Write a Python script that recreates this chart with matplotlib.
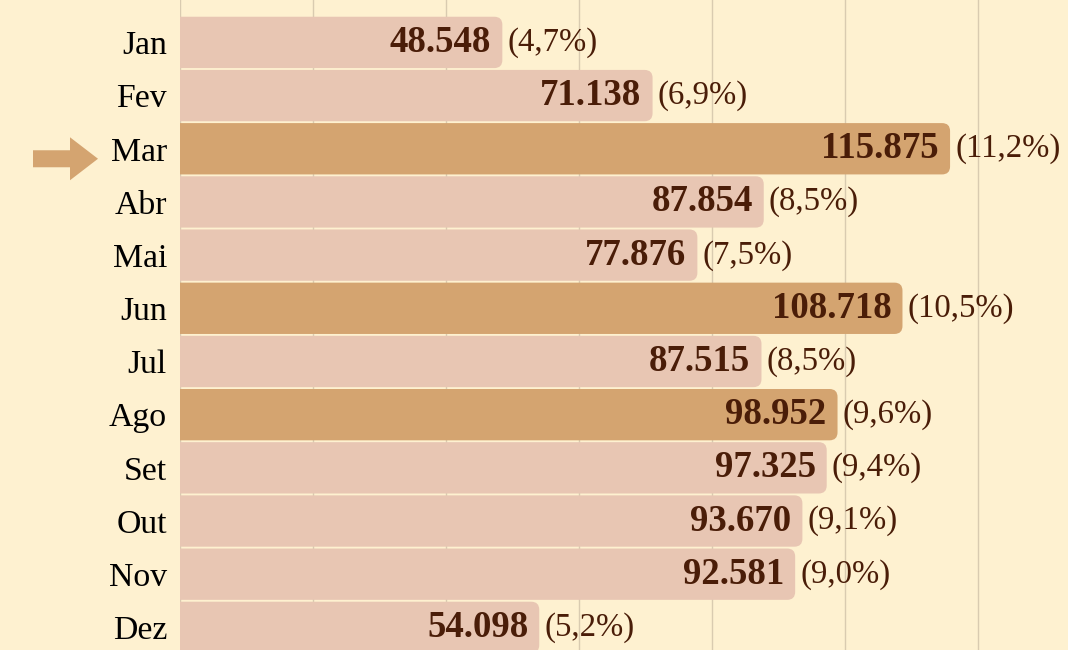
import matplotlib.pyplot as plt
from matplotlib.patches import FancyBboxPatch, Polygon

meses = ['Jan', 'Fev', 'Mar', 'Abr', 'Mai', 'Jun', 'Jul', 'Ago', 'Set', 'Out', 'Nov', 'Dez']
valores = [48548, 71138, 115875, 87854, 77876, 108718, 87515, 98952, 97325, 93670, 92581, 54098]
percentuais = ['4,7%', '6,9%', '11,2%', '8,5%', '7,5%', '10,5%', '8,5%', '9,6%', '9,4%', '9,1%', '9,0%', '5,2%']
destaques = ['Mar', 'Jun', 'Ago']
seta = 'Mar'

fundo = '#FEF1D0'
cor_clara = '#E8C6B3'
cor_escura = '#D4A470'
cor_texto = '#4A1D08'
cor_grade = '#D9CBB0'

plt.rcParams['font.family'] = ['Liberation Serif', 'DejaVu Serif']

W, H = 1068, 650
fig = plt.figure(figsize=(W / 100, H / 100), dpi=100, facecolor=fundo)
esq = 179.5
ax = fig.add_axes([esq / W, 0, 1 - esq / W, 1], facecolor=fundo)

# escala: 20.000 ~ 133 px, linha ~ 53.2 px
px_x = 20000 / 133.0
passo = 53.18
y0 = 42.4
xmax = (W - esq) * px_x
ax.set_xlim(0, xmax)
ax.set_ylim((H - y0) / passo, -y0 / passo)

for s in ax.spines.values():
    s.set_visible(False)
ax.set_xticks(range(0, 140000, 20000))
ax.tick_params(axis='x', length=0, labelbottom=False)
ax.grid(axis='x', color=cor_grade, linewidth=1)
ax.set_axisbelow(True)

ax.set_yticks(range(len(meses)))
ax.set_yticklabels(meses, fontsize=24.3, color='black')
ax.tick_params(axis='y', length=0, pad=9)

alt = 0.965
raio = 8 * px_x
aspecto = (1 / passo) / px_x
for i, (m, v, p) in enumerate(zip(meses, valores, percentuais)):
    cor = cor_escura if m in destaques else cor_clara
    barra = FancyBboxPatch((-3 * raio, i - alt / 2), v + 3 * raio, alt,
                           boxstyle=f'round,pad=0,rounding_size={raio}',
                           mutation_aspect=aspecto, facecolor=cor,
                           edgecolor='none', zorder=2)
    ax.add_patch(barra)
    rotulo = f'{v:,}'.replace(',', '.')
    ax.text(v - 11 * px_x, i, rotulo, ha='right', va='center',
            fontsize=26.5, fontweight='bold', color=cor_texto, zorder=3)
    ax.text(v + 5 * px_x, i, f'({p})', ha='left', va='center',
            fontsize=23.6, color=cor_texto, zorder=3)

# seta ao lado do mes em destaque
k = meses.index(seta)
yc = 1 - (y0 + k * passo + 10) / H
fx = lambda px: px / W
fy = lambda px: px / H
pts = [(fx(33), yc + fy(8.5)), (fx(70), yc + fy(8.5)), (fx(70), yc + fy(21.5)),
       (fx(98), yc), (fx(70), yc - fy(21.5)), (fx(70), yc - fy(8.5)),
       (fx(33), yc - fy(8.5))]
fig.patches.append(Polygon(pts, closed=True, transform=fig.transFigure,
                           facecolor=cor_escura, edgecolor='none'))

fig.savefig('out.png', dpi=100, facecolor=fundo)
